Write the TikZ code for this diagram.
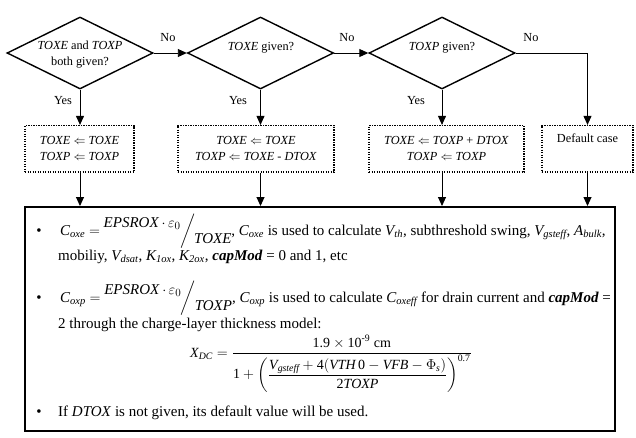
\documentclass[tikz,border=0pt]{standalone}
\usepackage{amsmath}
\usepackage{fontspec}
\setmainfont{Liberation Serif}
\usetikzlibrary{shapes.geometric,arrows.meta}
\newcommand{\flowfont}{\fontsize{12.3}{16}\selectfont}
\newcommand{\boxfont}{\fontsize{15}{18}\selectfont}
\newcommand{\vs}[2]{$\textit{#1}_{\textit{#2}}$}
\newcommand{\slfrac}[2]{\raisebox{8pt}{#1}\hspace{-0.5pt}$\bigg/$\hspace{-1pt}\raisebox{-8pt}{#2}}
\newcommand{\cm}{\textbf{\textit{capMod}}}
\tikzset{
  dia/.style={diamond, draw, line width=1.4pt, minimum width=146pt, minimum height=72pt, inner sep=0pt},
  dtext/.style={inner sep=0pt, align=center, font=\flowfont},
  dbox/.style={draw, line width=1.2pt, dash pattern=on 1.2pt off 1.3pt, minimum height=46.5pt, inner sep=0pt, align=center, font=\flowfont},
  arr/.style={line width=0.9pt, -{Triangle[length=9pt,width=8pt]}},
  lbl/.style={font=\flowfont, inner sep=0pt},
  txt/.style={anchor=base west, inner sep=0pt, font=\boxfont},
  bul/.style={anchor=base, inner sep=0pt, font=\boxfont}
}
\begin{document}
\begin{tikzpicture}[x=1pt,y=-1pt]
\useasboundingbox (0,0) rectangle (636,437);
% decisions
\node[dia] (D1) at (80,53) {};
\node[dia] (D2) at (260.5,53) {};
\node[dia] (D3) at (442,53) {};
\node[dtext] (T1) at (80,54.5) {\textit{TOXE} and \textit{TOXP}\\both given?};
\node[dtext] (T2) at (261,48) {\textit{TOXE} given?};
\node[dtext] (T3) at (442,48) {\textit{TOXP} given?};
% boxes
\node[dbox, minimum width=109pt] (B1) at (79.5,148.75) {\textit{TOXE} $\Leftarrow$ \textit{TOXE}\\\textit{TOXP} $\Leftarrow$ \textit{TOXP}};
\node[dbox, minimum width=156pt] (B2) at (256,148.75) {\textit{TOXE} $\Leftarrow$ \textit{TOXE}\\\textit{TOXP} $\Leftarrow$ \textit{TOXE - DTOX}};
\node[dbox, minimum width=155pt] (B3) at (446.5,148.75) {\textit{TOXE} $\Leftarrow$ \textit{TOXP} + \textit{DTOX}\\\textit{TOXP} $\Leftarrow$ \textit{TOXP}};
\node[dbox, minimum width=91pt] (B4) at (587.5,148.75) {Default case\\\strut};
% big box
\node[draw, line width=2pt, minimum width=590pt, minimum height=224pt, inner sep=0pt] (BB) at (320,319) {};
% connectors
\draw[arr] (D1.east) -- (D2.west);
\draw[arr] (D2.east) -- (D3.west);
\draw[arr] (D3.east) -| (B4.north);
\draw[arr] (D1.south) -- (D1.south |- B1.north);
\draw[arr] (D2.south) -- (D2.south |- B2.north);
\draw[arr] (D3.south) -- (D3.south |- B3.north);
\draw[arr] (D1.south |- B1.south) -- (D1.south |- BB.north);
\draw[arr] (D2.south |- B2.south) -- (D2.south |- BB.north);
\draw[arr] (D3.south |- B3.south) -- (D3.south |- BB.north);
\draw[arr] (B4.south) -- (B4.south |- BB.north);
% labels
\node[lbl] (N1) at (168,38) {No};
\node[lbl] (N2) at (347,38) {No};
\node[lbl] (N3) at (531,38) {No};
\node[lbl] (Y1) at (63,101) {Yes};
\node[lbl] (Y2) at (238,101) {Yes};
\node[lbl] (Y3) at (416,101) {Yes};
% text in big box
\node[bul] (b1) at (39,235) {\textbullet};
\node[txt] (l1) at (60,235) {\vs{C}{oxe} $=$ \slfrac{\textit{EPSROX}\,$\cdot\,\varepsilon_0$}{\textit{TOXE}}, \vs{C}{oxe} is used to calculate \vs{V}{th}, subthreshold swing, \vs{V}{gsteff}, \vs{A}{bulk},};
\node[txt] (l2) at (58,260) {mobiliy, \vs{V}{dsat}, \vs{K}{1ox}, \vs{K}{2ox}, \cm{} = 0 and 1, etc};
\node[bul] (b2) at (39,302) {\textbullet};
\node[txt] (l3) at (60,302) {\vs{C}{oxp} $=$ \slfrac{\textit{EPSROX}\,$\cdot\,\varepsilon_0$}{\textit{TOXP}}, \vs{C}{oxp} is used to calculate \vs{C}{oxeff} for drain current and \cm{} =};
\node[txt] (l4) at (58,328) {2 through the charge-layer thickness model:};
\node[txt, font=\fontsize{14}{17}\selectfont] (f1) at (190,357) {$\textit{X}_{\textit{DC}} = \dfrac{\text{1.9}\times\text{10}^{\text{-9}}\ \text{cm}}{\text{1}+\left(\dfrac{\textit{V}_{\textit{gsteff}}+\text{4}(\textit{VTH}\,\text{0}-\textit{VFB}-\Phi_{\textit{s}})}{\text{2}\textit{TOXP}}\right)^{\text{0.7}}}$};
\node[bul] (b3) at (39,416) {\textbullet};
\node[txt] (l5) at (58,416) {If \textit{DTOX} is not given, its default value will be used.};
\end{tikzpicture}
\end{document}
